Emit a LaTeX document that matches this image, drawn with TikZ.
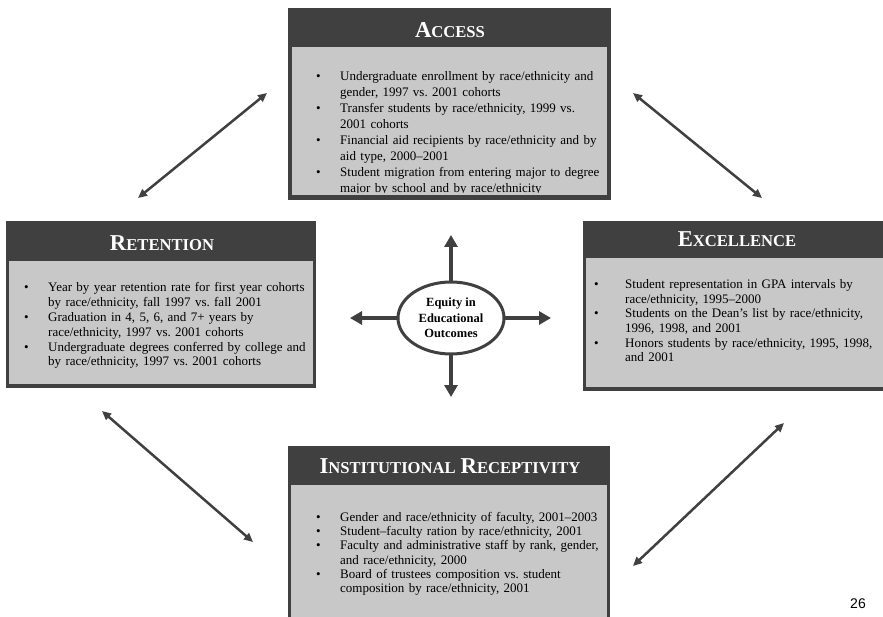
\documentclass[tikz,border=0pt]{standalone}
\usepackage{fontspec}
\setmainfont{Liberation Serif}
\newfontfamily\pagenumfont{Liberation Sans}
\usetikzlibrary{arrows.meta,shapes.geometric}
\definecolor{boxdark}{HTML}{404040}
\definecolor{boxlight}{HTML}{C8C8C8}
\newlength\bulletindent
% small-caps style heading word: large initial, smaller capitals after it
\newcommand\capword[2]{{\fontsize{22.7}{24}\selectfont #1}{\fontsize{16.6}{18}\selectfont #2}}
% one bulleted entry with a hanging indent
\newcommand\bulletitem{\par\noindent\hangindent=\bulletindent\hangafter=1\makebox[\bulletindent][l]{\textbullet}}
\frenchspacing

\begin{document}
\begin{tikzpicture}[x=1pt,y=-1pt,
  heading/.style={text=white, font=\bfseries, anchor=base, inner sep=0pt},
  itemtext/.style={anchor=north west, inner sep=0pt, text width=#1, align=left},
  link/.style={{Triangle[length=9pt,width=8pt]}-{Triangle[length=9pt,width=8pt]}, line width=2.5pt, draw=boxdark},
  spoke/.style={-{Triangle[length=12pt,width=13pt]}, line width=3.4pt, draw=boxdark},
  hub/.style={ellipse, draw=boxdark, line width=3pt, fill=white, minimum width=106pt, minimum height=72pt, inner sep=0pt, align=center, font=\bfseries\fontsize{12.5}{15.5}\selectfont}
]
\useasboundingbox (0,0) rectangle (883,617);
\fill[white] (0,0) rectangle (883,617);

% ---------------- Access ----------------
\fill[boxdark] (288,8) rectangle (611,200);
\fill[boxlight] (292,47) rectangle (607,195);
\node[heading] (accessT) at (450,38) {\capword{A}{CCESS}};
\begin{scope}
  \clip (292,47) rectangle (607,193);
  \node[itemtext=290pt, font=\fontsize{13}{16}\selectfont] (accessL) at (316,64) {\setlength\bulletindent{24pt}\parskip=0pt
    \bulletitem Undergraduate enrollment by race/ethnicity and\newline gender, 1997 vs. 2001 cohorts
    \bulletitem Transfer students by race/ethnicity, 1999 vs.\newline 2001 cohorts
    \bulletitem Financial aid recipients by race/ethnicity and by\newline aid type, 2000–2001
    \bulletitem Student migration from entering major to degree\newline major by school and by race/ethnicity\par};
\end{scope}

% ---------------- Retention ----------------
\fill[boxdark] (6,221) rectangle (316,388);
\fill[boxlight] (9,261) rectangle (313,384);
\node[heading] (retentionT) at (162,251) {\capword{R}{ETENTION}};
\node[itemtext=290pt, font=\fontsize{13}{14.8}\selectfont] (retentionL) at (24,277) {\setlength\bulletindent{24pt}\parskip=0pt
  \bulletitem Year by year retention rate for first year cohorts\newline by race/ethnicity, fall 1997 vs. fall 2001
  \bulletitem Graduation in 4, 5, 6, and 7+ years by\newline race/ethnicity, 1997 vs. 2001 cohorts
  \bulletitem Undergraduate degrees conferred by college and\newline by race/ethnicity, 1997 vs. 2001 cohorts\par};

% ---------------- Excellence ----------------
\fill[boxdark] (583,221) rectangle (890,391);
\fill[boxlight] (586,258) rectangle (890,387);
\node[heading] (excellenceT) at (737,247) {\capword{E}{XCELLENCE}};
\node[itemtext=285pt, font=\fontsize{13}{14.6}\selectfont] (excellenceL) at (594,274) {\setlength\bulletindent{31pt}\parskip=0pt
  \bulletitem Student representation in GPA intervals by\newline race/ethnicity, 1995–2000
  \bulletitem Students on the Dean’s list by race/ethnicity,\newline 1996, 1998, and 2001
  \bulletitem Honors students by race/ethnicity, 1995, 1998,\newline and 2001\par};

% ---------------- Institutional Receptivity ----------------
\fill[boxdark] (288,446) rectangle (610,630);
\fill[boxlight] (291,485) rectangle (607,630);
\node[heading] (receptT) at (450,473) {\capword{I}{NSTITUTIONAL}\hspace{5pt}\capword{R}{ECEPTIVITY}};
\node[itemtext=290pt, font=\fontsize{13}{14.2}\selectfont] (receptL) at (316,507) {\setlength\bulletindent{24pt}\parskip=0pt
  \bulletitem Gender and race/ethnicity of faculty, 2001–2003
  \bulletitem Student–faculty ration by race/ethnicity, 2001
  \bulletitem Faculty and administrative staff by rank, gender,\newline and race/ethnicity, 2000
  \bulletitem Board of trustees composition vs. student\newline composition by race/ethnicity, 2001\par};

% ---------------- central hub ----------------
\coordinate (hubN) at (451,235);
\coordinate (hubS) at (451,397);
\coordinate (hubW) at (350,318);
\coordinate (hubE) at (551,318);
\draw[spoke] (451,318) -- (hubN);
\draw[spoke] (451,318) -- (hubS);
\draw[spoke] (451,318) -- (hubW);
\draw[spoke] (451,318) -- (hubE);
\node[hub] (hub) at (451,318) {Equity in\\Educational\\Outcomes};

% ---------------- links between the four areas ----------------
\coordinate (tlA) at (138,198);
\coordinate (tlB) at (267,93);
\coordinate (trA) at (633,93);
\coordinate (trB) at (762,198);
\coordinate (blA) at (102,411);
\coordinate (blB) at (253,542);
\coordinate (brA) at (633,566);
\coordinate (brB) at (784,423);
\draw[link] (tlA) -- (tlB);
\draw[link] (trA) -- (trB);
\draw[link] (blA) -- (blB);
\draw[link] (brA) -- (brB);

% page number
\node[font=\pagenumfont\fontsize{14}{16}\selectfont, inner sep=0pt] (pagenum) at (858,604) {26};
\end{tikzpicture}
\end{document}
